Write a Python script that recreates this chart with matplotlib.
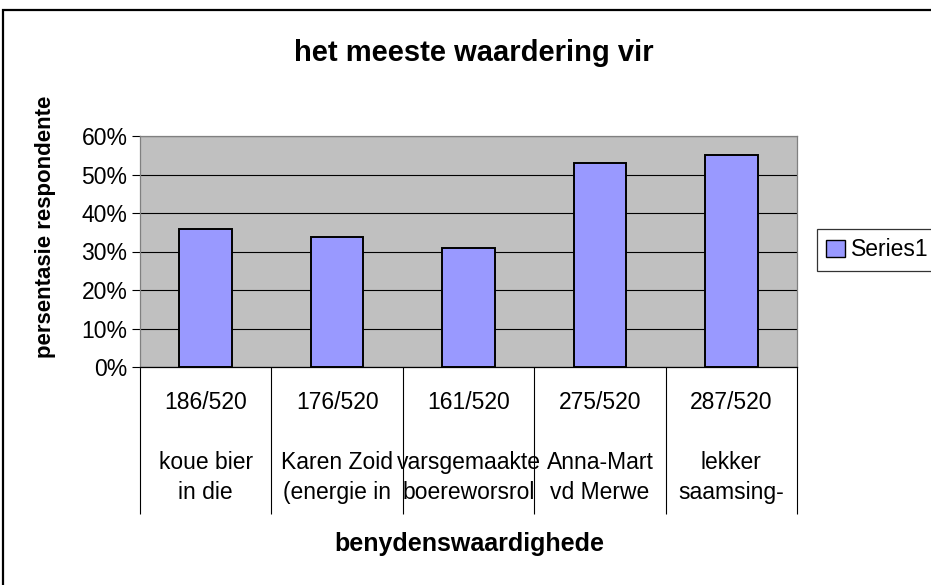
import numpy as np
import matplotlib
matplotlib.use("Agg")
import matplotlib.pyplot as plt
from matplotlib.patches import Rectangle, Patch
from matplotlib.ticker import PercentFormatter

plt.rcParams['font.family'] = ['Liberation Sans', 'DejaVu Sans']

counts = [186, 176, 161, 275, 287]
total = 520
names = ["koue bier\nin die", "Karen Zoid\n(energie in", "varsgemaakte\nboereworsrol",
         "Anna-Mart\nvd Merwe", "lekker\nsaamsing-"]
yticks = [0, 0.1, 0.2, 0.3, 0.4, 0.5, 0.6]

values = np.array(counts) / total
labels = ["%d/%d\n\n%s" % (c, total, n) for c, n in zip(counts, names)]
x = np.arange(len(counts))

W, H = 931, 585
fig = plt.figure(figsize=(W / 100, H / 100), dpi=100)

# outer chart frame (clipped on the right and bottom like the screenshot)
fig.patches.append(Rectangle((3 / W, -0.05), 1.1, 1 - 10 / H + 0.05, transform=fig.transFigure,
                             fill=False, edgecolor='black', linewidth=1.6))

ax = fig.add_axes([140 / W, 1 - 367 / H, 657 / W, 231 / H])
ax.set_facecolor('#C0C0C0')
ax.bar(x, values, width=0.4, color='#9999FF', edgecolor='black', linewidth=1.4, zorder=3)

ax.set_xlim(-0.5, len(counts) - 0.5)
ax.set_ylim(0, 0.6)
ax.set_yticks(yticks)
ax.yaxis.set_major_formatter(PercentFormatter(1.0, decimals=0))
ax.grid(axis='y', color='black', linewidth=0.8, zorder=1)
ax.set_axisbelow(True)

ax.set_xticks(x)
ax.set_xticklabels(labels, fontsize=16.5, linespacing=1.4)
ax.set_xticks(np.arange(len(counts) + 1) - 0.5, minor=True)
ax.tick_params(axis='x', which='major', length=0, pad=17)
ax.tick_params(axis='x', which='minor', length=106, width=0.8, color='black', direction='out')
ax.tick_params(axis='y', labelsize=16.5, length=6, width=0.8, pad=3, direction='out')

for s in ['top', 'right', 'left']:
    ax.spines[s].set_color('#808080')
    ax.spines[s].set_linewidth(0.9)
ax.spines['bottom'].set_color('black')
ax.spines['bottom'].set_linewidth(0.9)

fig.text(474 / W, 1 - 53 / H, "het meeste waardering vir", fontsize=21, fontweight='bold',
         ha='center', va='center')
fig.text(469 / W, 1 - 544 / H, "benydenswaardighede", fontsize=18, fontweight='bold',
         ha='center', va='center')
fig.text(46 / W, 1 - 227 / H, "persentasie respondente", fontsize=16, fontweight='bold',
         ha='center', va='center', rotation=90)

leg = fig.legend(handles=[Patch(facecolor='#9999FF', edgecolor='black', label='Series1')],
                 loc='center left', bbox_to_anchor=(817 / W, 1 - 250 / H), fontsize=16.5,
                 frameon=True, fancybox=False, handlelength=0.8, handleheight=0.8,
                 handletextpad=0.3, borderpad=0.4, borderaxespad=0)
leg.get_frame().set_edgecolor('black')
leg.get_frame().set_linewidth(0.9)

fig.savefig("out.png", dpi=100)
